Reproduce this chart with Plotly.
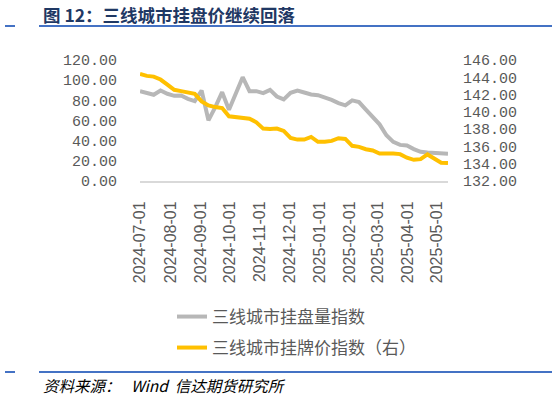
import plotly.graph_objects as go

# ---------------- data ----------------
dates = [
    "2024-07-01", "2024-07-08", "2024-07-15", "2024-07-22", "2024-07-29",
    "2024-08-05", "2024-08-12", "2024-08-19", "2024-08-26", "2024-09-02",
    "2024-09-09", "2024-09-16", "2024-09-23", "2024-09-30", "2024-10-07",
    "2024-10-14", "2024-10-21", "2024-10-28", "2024-11-04", "2024-11-11",
    "2024-11-18", "2024-11-25", "2024-12-02", "2024-12-09", "2024-12-16",
    "2024-12-23", "2024-12-30", "2025-01-06", "2025-01-13", "2025-01-20",
    "2025-01-27", "2025-02-03", "2025-02-10", "2025-02-17", "2025-02-24",
    "2025-03-03", "2025-03-10", "2025-03-17", "2025-03-24", "2025-03-31",
    "2025-04-07", "2025-04-14", "2025-04-21", "2025-04-28", "2025-05-05",
    "2025-05-12",
]

listing_volume_index = [
    89.1, 87.1, 85.5, 89.7, 86.5, 84.5, 84.8, 81.5, 79.2, 89.7,
    60.2, 73.3, 88.1, 70.7, 86.5, 102.9, 89.1, 89.1, 87.1, 90.4,
    83.8, 80.9, 87.4, 89.7, 87.8, 85.8, 85.1, 83.2, 80.5, 77.3,
    75.0, 79.9, 78.2, 70.7, 62.8, 56.2, 45.4, 38.8, 35.8, 35.2,
    31.6, 28.9, 28.3, 27.9, 27.6, 27.0,
]

listing_price_index = [
    144.39, 144.16, 144.08, 143.74, 143.16, 142.55, 142.40, 142.28, 142.09, 141.21,
    140.75, 140.55, 140.44, 139.48, 139.40, 139.36, 139.21, 138.79, 138.06, 138.02,
    138.06, 137.79, 136.99, 136.79, 136.79, 137.10, 136.53, 136.53, 136.64, 136.95,
    136.87, 136.07, 135.95, 135.68, 135.53, 135.18, 135.22, 135.18, 135.11, 134.69,
    134.45, 134.53, 135.07, 134.53, 134.11, 134.07,
]

left_ticks = [0, 20, 40, 60, 80, 100, 120]
right_ticks = [132, 134, 136, 138, 140, 142, 144, 146]

series_names = ["三线城市挂盘量指数", "三线城市挂牌价指数（右）"]
title_text = "图 12：三线城市挂盘价继续回落"
source_text = "资料来源：   Wind  信达期货研究所"

# ---------------- layout geometry ----------------
W, H = 554, 397
L, R, T, B = 140, 106, 60, 216
PW, PH = W - L - R, H - T - B


def px_x(px):
    return (px - L) / PW


def px_y(py):
    return (H - B - py) / PH


GRAY = "#B7B7B7"
GOLD = "#FFC000"
TXT = "#595959"
BLUE = "#4472C4"
NAVY = "#1F3864"
CJK = "Noto Sans CJK SC"
MONO = "Liberation Mono, DejaVu Sans Mono, monospace"

fig = go.Figure()
fig.add_trace(go.Scatter(
    x=dates, y=listing_volume_index, name=series_names[0], mode="lines",
    line=dict(color=GRAY, width=4), yaxis="y", legend="legend",
))
fig.add_trace(go.Scatter(
    x=dates, y=listing_price_index, name=series_names[1], mode="lines",
    line=dict(color=GOLD, width=4), yaxis="y2", legend="legend2",
))

fig.update_layout(
    width=W, height=H,
    margin=dict(l=L, r=R, t=T, b=B, pad=0, autoexpand=False),
    paper_bgcolor="white", plot_bgcolor="white",
    showlegend=True,
    xaxis=dict(
        type="date", range=[dates[0], dates[-1]], automargin=False,
        tick0=dates[0], dtick="M1", tickformat="%Y-%m-%d", tickangle=-90,
        tickfont=dict(family="Liberation Sans, Arial", size=16, color=TXT),
        showgrid=False, zeroline=False,
        showline=True, linecolor="#D9D9D9", linewidth=2,
        ticks="", ticklabelstandoff=12,
    ),
    yaxis=dict(
        range=[left_ticks[0], left_ticks[-1]], tickvals=left_ticks, tickformat=".2f",
        automargin=False,
        tickfont=dict(family=MONO, size=15, color=TXT),
        showgrid=False, zeroline=False, showline=False, ticks="",
        ticklabelstandoff=22,
    ),
    yaxis2=dict(
        range=[right_ticks[0], right_ticks[-1]], tickvals=right_ticks, tickformat=".2f",
        overlaying="y", side="right", automargin=False,
        tickfont=dict(family=MONO, size=15, color=TXT),
        showgrid=False, zeroline=False, showline=False, ticks="",
        ticklabelstandoff=14,
    ),
    legend=dict(
        xref="container", yref="container",
        x=172 / W, y=1 - 317 / H, xanchor="left", yanchor="middle",
        font=dict(family=CJK, size=17, color=TXT), bgcolor="rgba(0,0,0,0)",
        borderwidth=0,
    ),
    legend2=dict(
        xref="container", yref="container",
        x=172 / W, y=1 - 348 / H, xanchor="left", yanchor="middle",
        font=dict(family=CJK, size=17, color=TXT), bgcolor="rgba(0,0,0,0)",
        borderwidth=0,
    ),
)

shapes = []
for y_line in (26, 372):
    shapes.append(dict(type="line", xref="paper", yref="paper",
                       x0=px_x(5), x1=px_x(15), y0=px_y(y_line), y1=px_y(y_line),
                       line=dict(color=BLUE, width=2)))
    shapes.append(dict(type="line", xref="paper", yref="paper",
                       x0=px_x(39), x1=px_x(552), y0=px_y(y_line), y1=px_y(y_line),
                       line=dict(color=BLUE, width=2)))
fig.update_layout(shapes=shapes)

fig.add_annotation(
    text="<b>" + title_text + "</b>", xref="paper", yref="paper",
    x=px_x(41), y=px_y(15), xanchor="left", yanchor="middle", showarrow=False,
    font=dict(family=CJK, size=17.5, color=NAVY),
)
fig.add_annotation(
    text="<i>" + source_text + "</i>", xref="paper", yref="paper",
    x=px_x(41), y=px_y(385), xanchor="left", yanchor="middle", showarrow=False,
    font=dict(family=CJK, size=15.5, color="#000000"),
)

fig.write_html(
    "out.html",
    config={"displayModeBar": False, "staticPlot": True},
    post_script="document.body.style.margin='0';document.body.style.overflow='hidden';",
)
